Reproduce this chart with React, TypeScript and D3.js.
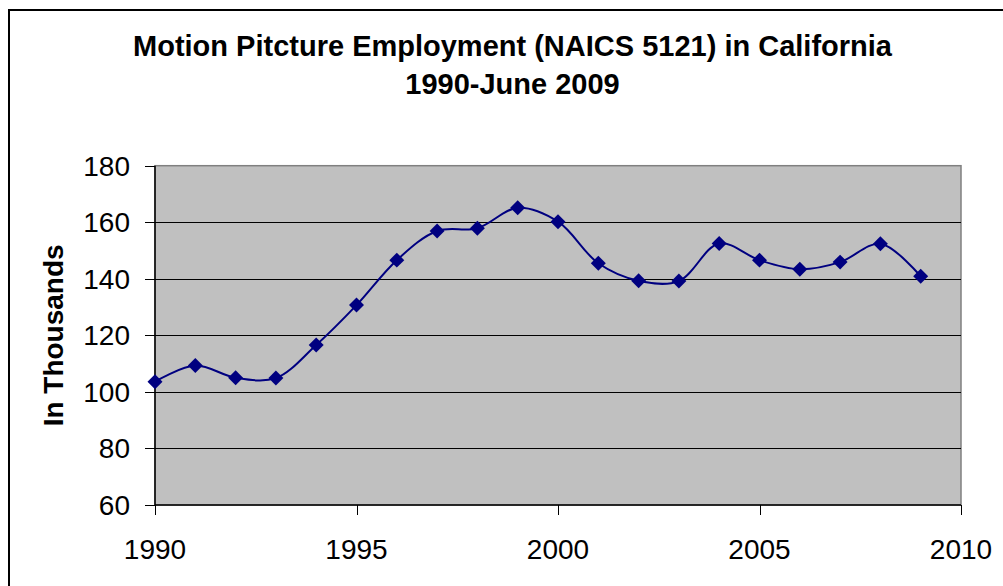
import React from "react";
import * as d3 from "d3";

const years = [1990, 1991, 1992, 1993, 1994, 1995, 1996, 1997, 1998, 1999, 2000, 2001, 2002, 2003, 2004, 2005, 2006, 2007, 2008, 2009];
const employment = [103.6, 109.3, 105.0, 104.9, 116.6, 130.7, 146.6, 156.9, 157.9, 165.1, 160.2, 145.5, 139.3, 139.2, 152.5, 146.6, 143.4, 145.9, 152.4, 140.9];
const yTicks = [60, 80, 100, 120, 140, 160, 180];
const xTicks = [1990, 1995, 2000, 2005, 2010];
const titleLines = ["Motion Pitcture Employment (NAICS 5121) in California", "1990-June 2009"];
const yLabel = "In Thousands";

export default function App() {
  const W = 1003, H = 586;
  const left = 155, right = 961, top = 165.7, bottom = 505;
  const x = d3.scaleLinear().domain([1990, 2010]).range([left, right]);
  const y = d3.scaleLinear().domain([60, 180]).range([bottom, top]);
  const pts = years.map((yr, i) => [x(yr), y(employment[i])] as [number, number]);
  const line = d3.line().curve(d3.curveCatmullRom.alpha(0.5))(pts) || "";
  const diamond = d3.symbol().type(d3.symbolSquare).size(112)() || "";
  const font = "Arial, 'Liberation Sans', sans-serif";
  return (
    <svg width={W} height={H} style={{ position: "absolute", left: 0, top: 0, background: "#fff" }} fontFamily={font}>
      <rect x={0} y={0} width={W} height={H} fill="#fff" />
      <rect x={9} y={10} width={1200} height={1000} fill="none" stroke="#000" strokeWidth={2} />
      {titleLines.map((t, i) => (
        <text key={i} x={512.5} y={56 + i * 38} textAnchor="middle" fontSize={29} fontWeight="bold" fill="#000">{t}</text>
      ))}
      <rect x={left} y={top} width={right - left} height={bottom - top} fill="#c0c0c0" stroke="#808080" strokeWidth={1.5} />
      {yTicks.map((v) => (
        <g key={v}>
          {v !== 60 && v !== 180 && (
            <line x1={left} x2={right} y1={Math.round(y(v)) + 0.5} y2={Math.round(y(v)) + 0.5} stroke="#000" strokeWidth={1} />
          )}
          <line x1={left - 10} x2={left} y1={Math.round(y(v)) + 0.5} y2={Math.round(y(v)) + 0.5} stroke="#000" strokeWidth={1} />
          <text x={130} y={y(v) + 10} textAnchor="end" fontSize={28} fill="#000">{v}</text>
        </g>
      ))}
      <line x1={left} x2={left} y1={top} y2={bottom} stroke="#000" strokeWidth={1.5} />
      <line x1={left} x2={right} y1={bottom} y2={bottom} stroke="#000" strokeWidth={1.5} />
      {xTicks.map((v) => (
        <g key={v}>
          <line x1={Math.round(x(v)) + 0.5} x2={Math.round(x(v)) + 0.5} y1={bottom} y2={bottom + 10} stroke="#000" strokeWidth={1} />
          <text x={x(v)} y={559} textAnchor="middle" fontSize={28} fill="#000">{v}</text>
        </g>
      ))}
      <text transform={`translate(63,${(top + bottom) / 2}) rotate(-90)`} textAnchor="middle" fontSize={28} fontWeight="bold" fill="#000">{yLabel}</text>
      <path d={line} fill="none" stroke="#000080" strokeWidth={2} />
      {pts.map((p, i) => (
        <path key={i} d={diamond} transform={`translate(${p[0]},${p[1]}) rotate(45)`} fill="#000080" />
      ))}
    </svg>
  );
}
